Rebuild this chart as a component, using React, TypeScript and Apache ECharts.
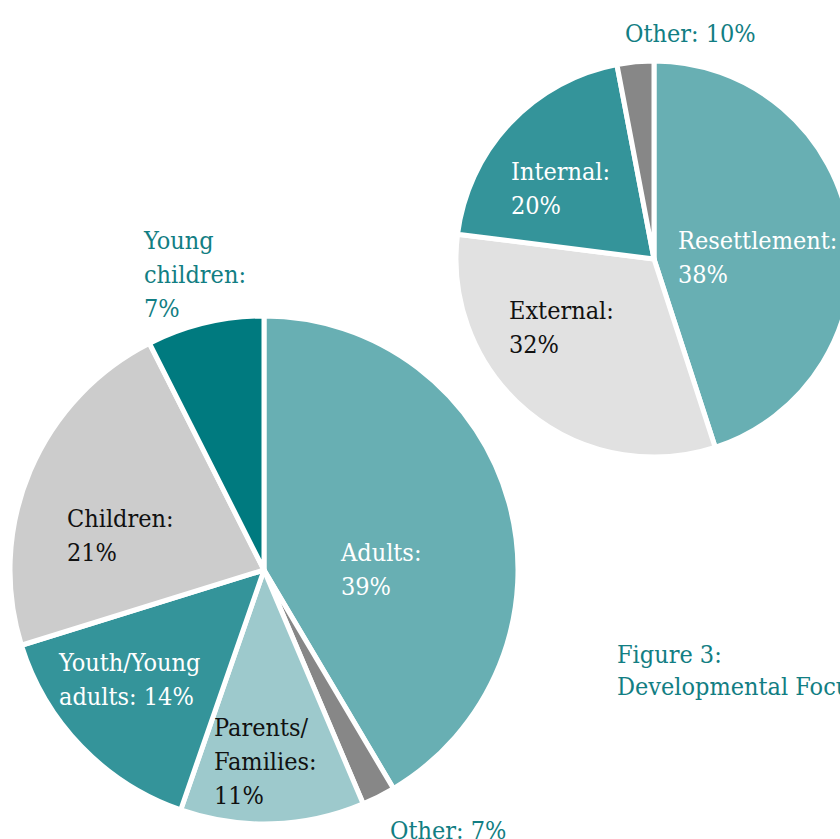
import React, { useEffect, useRef } from "react";
import * as echarts from "echarts";

// Left pie: target groups (slice sizes as drawn)
const LEFT_NAMES = ["Adults", "Other", "Parents/Families", "Youth/Young adults", "Children", "Young children"];
const LEFT_VALUES = [39, 2, 11, 14, 21, 7];
const LEFT_LABELS = ["Adults:\n39%", "Other: 7%", "Parents/\nFamilies:\n11%", "Youth/Young\nadults: 14%", "Children:\n21%", "Young\nchildren:\n7%"];

// Right pie: developmental focus (slice sizes as drawn)
const RIGHT_NAMES = ["Resettlement", "External", "Internal", "Other"];
const RIGHT_VALUES = [45, 32, 20, 3];
const RIGHT_LABELS = ["Resettlement:\n38%", "External:\n32%", "Internal:\n20%", "Other: 10%"];

const TITLE = "Figure 3:\nDevelopmental Focus";

// styling
const TEAL_TEXT = "#127E83";
const LEFT_COLORS = ["#68AFB3", "#878787", "#9DC9CC", "#34949A", "#CCCCCC", "#007A7F"];
const LEFT_TEXT = ["#FFFFFF", TEAL_TEXT, "#111111", "#FFFFFF", "#111111", TEAL_TEXT];
const LEFT_POS = [[341, 535], [390, 813], [214, 710], [59, 645], [67, 501], [144, 223]];
const RIGHT_COLORS = ["#68AFB3", "#E1E1E1", "#34949A", "#878787"];
const RIGHT_TEXT = ["#FFFFFF", "#111111", "#FFFFFF", TEAL_TEXT];
const RIGHT_POS = [[678, 223], [509, 293], [511, 154], [625, 16]];

const FONT = "'DejaVu Serif Condensed', 'DejaVu Serif', serif";

export default function App() {
  const ref = useRef<HTMLDivElement>(null);
  useEffect(() => {
    if (!ref.current) return;
    const chart = echarts.init(ref.current, null, { renderer: "svg" });
    const mk = (names: string[], values: number[], labels: string[], colors: string[], texts: string[]) =>
      names.map((n, i) => ({
        name: n,
        value: values[i],
        itemStyle: { color: colors[i] },
        label: { formatter: labels[i], color: texts[i] },
      }));
    const labelCommon = {
      show: true,
      position: "inside" as const,
      fontFamily: FONT,
      fontSize: 25,
      lineHeight: 34,
      align: "left" as const,
    };
    chart.setOption({
      animation: false,
      title: {
        text: TITLE,
        left: 617,
        top: 638,
        padding: 0,
        textStyle: { fontFamily: FONT, fontSize: 25, lineHeight: 32, fontWeight: "normal", color: TEAL_TEXT },
      },
      series: [
        {
          type: "pie",
          center: [264, 570],
          radius: [0, 254],
          startAngle: 90,
          clockwise: true,
          avoidLabelOverlap: false,
          itemStyle: { borderColor: "#FFFFFF", borderWidth: 5 },
          label: labelCommon,
          labelLine: { show: false },
          labelLayout: (p: any) => ({
            x: LEFT_POS[p.dataIndex][0],
            y: LEFT_POS[p.dataIndex][1],
            align: "left",
            verticalAlign: "top",
          }),
          emphasis: { disabled: true },
          data: mk(LEFT_NAMES, LEFT_VALUES, LEFT_LABELS, LEFT_COLORS, LEFT_TEXT),
        },
        {
          type: "pie",
          center: [654, 259],
          radius: [0, 198],
          startAngle: 90,
          clockwise: true,
          avoidLabelOverlap: false,
          itemStyle: { borderColor: "#FFFFFF", borderWidth: 5 },
          label: labelCommon,
          labelLine: { show: false },
          labelLayout: (p: any) => ({
            x: RIGHT_POS[p.dataIndex][0],
            y: RIGHT_POS[p.dataIndex][1],
            align: "left",
            verticalAlign: "top",
          }),
          emphasis: { disabled: true },
          data: mk(RIGHT_NAMES, RIGHT_VALUES, RIGHT_LABELS, RIGHT_COLORS, RIGHT_TEXT),
        },
      ],
    });
    return () => chart.dispose();
  }, []);
  return (
    <div
      ref={ref}
      style={{ position: "fixed", left: 0, top: 0, width: 840, height: 839, background: "#FFFFFF" }}
    />
  );
}
